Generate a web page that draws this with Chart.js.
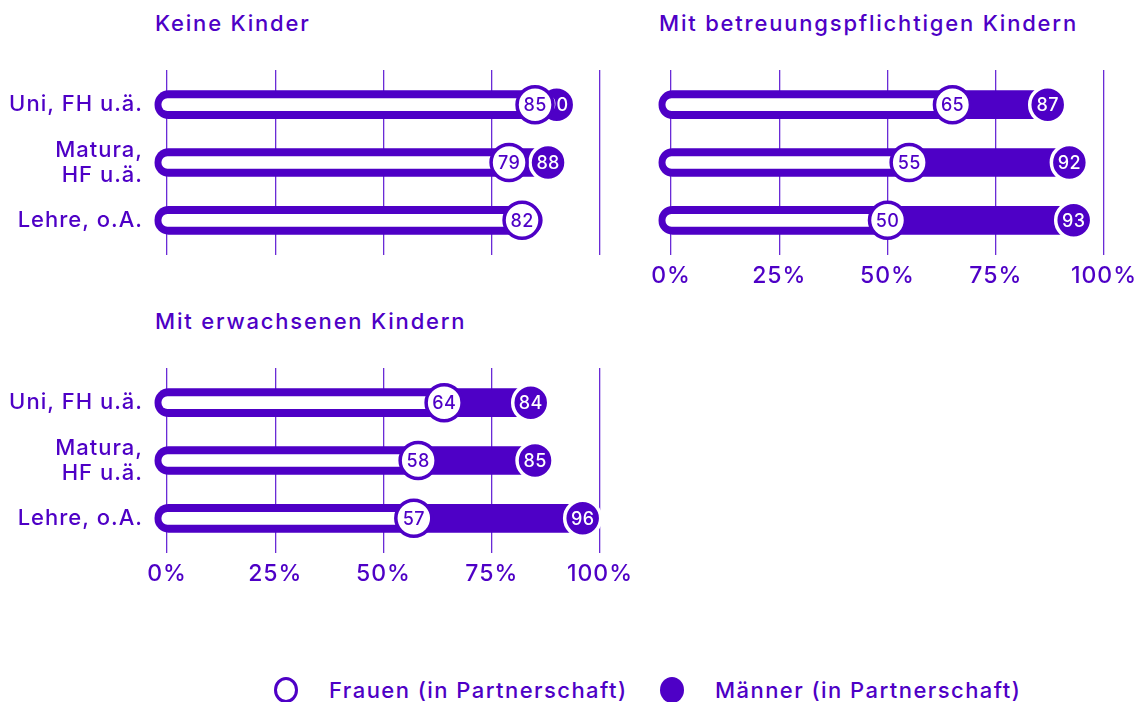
<!DOCTYPE html>
<html>
<head>
<meta charset="utf-8">
<script src="https://cdn.jsdelivr.net/npm/chart.js@4.4.1/dist/chart.umd.min.js"></script>
<style>
  html, body { margin: 0; padding: 0; background: #ffffff; }
  body { width: 1141px; height: 702px; position: relative; overflow: hidden; font-family: Inter, "Noto Sans", sans-serif; color: #4E00C6; }
  .box { position: absolute; }
  .title { position: absolute; font-size: 22px; font-weight: 500; line-height: 26px; letter-spacing: 1.8px; white-space: nowrap; }
  .legend { position: absolute; top: 676px; font-size: 22px; font-weight: 500; line-height: 28px; letter-spacing: 1.45px; white-space: nowrap; }
  .dot { position: absolute; width: 24px; height: 26px; border-radius: 50%; box-sizing: border-box; }
</style>
</head>
<body>
<div class="title" style="left:155px; top:10px;">Keine Kinder</div>
<div class="title" style="left:659px; top:10px;">Mit betreuungspflichtigen Kindern</div>
<div class="title" style="left:155px; top:308px;">Mit erwachsenen Kindern</div>

<div class="box" style="left:0; top:0; width:640px; height:300px;"><canvas id="c1"></canvas></div>
<div class="box" style="left:640px; top:0; width:501px; height:300px;"><canvas id="c2"></canvas></div>
<div class="box" style="left:0; top:298px; width:640px; height:300px;"><canvas id="c3"></canvas></div>

<div class="dot" style="left:274px; top:677px; border:3px solid #4E00C6; background:#fff;"></div>
<div class="legend" style="left:329px;">Frauen (in Partnerschaft)</div>
<div class="dot" style="left:660px; top:677px; background:#4E00C6;"></div>
<div class="legend" style="left:715px;">Männer (in Partnerschaft)</div>

<script>
// ---- data ----
const categories = [["Uni, FH u.ä."], ["Matura,", "HF u.ä."], ["Lehre, o.A."]];
const xTicks = [0, 25, 50, 75, 100];

const womenKeine = [85, 79, 82];
const menKeine = [90, 88, 83];

const womenBetreuung = [65, 55, 50];
const menBetreuung = [87, 92, 93];

const womenErwachsen = [64, 58, 57];
const menErwachsen = [84, 85, 96];

// ---- style ----
const PURPLE = '#4E00C6';
const GRID = '#6A2BD6';
const FONT = 'Inter, "Noto Sans", sans-serif';
const PILL_START = -2.8;
const INNER_START = -1.2;

const spacing = {
  id: 'spacing',
  beforeUpdate(chart) { chart.ctx.letterSpacing = '1px'; },
  beforeDraw(chart) { chart.ctx.letterSpacing = '1px'; }
};

const circleLabels = {
  id: 'circleLabels',
  afterDatasetDraw(chart, args) {
    const ds = chart.data.datasets[args.index];
    if (!ds.circleLabel) return;
    const ctx = chart.ctx;
    ctx.save();
    ctx.letterSpacing = '0.3px';
    ctx.font = '500 18px ' + FONT;
    ctx.fillStyle = ds.labelColor;
    ctx.textAlign = 'center';
    ctx.textBaseline = 'middle';
    args.meta.data.forEach((el, i) => {
      ctx.fillText(String(ds.data[i].x), el.x, el.y + 1);
    });
    ctx.restore();
  }
};

function makeChart(id, women, men, opts) {
  const pts = arr => arr.map((v, i) => ({ x: v, y: i }));
  const pill = men.map((v, i) => ({ x: [PILL_START, v], y: i }));
  const inner = women.map((v, i) => ({ x: [INNER_START, v], y: i }));
  return new Chart(document.getElementById(id), {
    type: 'bar',
    data: {
      datasets: [
        { type: 'line', data: pts(women), showLine: false, order: 0, clip: false,
          pointRadius: 18, pointHoverRadius: 18, pointBackgroundColor: '#ffffff',
          pointBorderColor: PURPLE, pointBorderWidth: 3.5, pointHoverBorderWidth: 3.5,
          circleLabel: true, labelColor: PURPLE },
        { type: 'line', data: pts(men), showLine: false, order: 1, clip: false,
          pointRadius: 18, pointHoverRadius: 18, pointBackgroundColor: PURPLE,
          pointBorderColor: '#ffffff', pointBorderWidth: 3.5, pointHoverBorderWidth: 3.5,
          circleLabel: true, labelColor: '#ffffff' },
        { type: 'bar', data: inner, order: 2, clip: false, stack: 's',
          backgroundColor: '#ffffff', barThickness: 12, borderRadius: 6, borderSkipped: false },
        { type: 'bar', data: pill, order: 3, clip: false, stack: 's',
          backgroundColor: PURPLE, barThickness: 28, borderRadius: 14, borderSkipped: false }
      ]
    },
    options: {
      indexAxis: 'y',
      responsive: true,
      maintainAspectRatio: false,
      animation: false,
      events: [],
      layout: { padding: { top: 70, right: opts.padRight, left: 0, bottom: 0 } },
      plugins: { legend: { display: false }, tooltip: { enabled: false } },
      scales: {
        x: {
          type: 'linear', min: 0, max: 100, stacked: false, offset: false,
          afterBuildTicks: s => { s.ticks = xTicks.map(v => ({ value: v })); },
          afterFit: s => { s.height = 45; s.paddingLeft = 0; s.paddingRight = 0; },
          grid: { display: true, drawTicks: false, offset: false, color: GRID, lineWidth: 1.3 },
          border: { display: false },
          ticks: { display: opts.showX, padding: 7, color: PURPLE,
                   font: { family: FONT, size: 23, weight: '500' },
                   callback: v => v + '%' }
        },
        y: {
          type: 'linear', min: -0.6, max: 2.6, reverse: true, stacked: true, offset: false,
          afterBuildTicks: s => { s.ticks = categories.map((c, i) => ({ value: i })); },
          afterFit: s => { s.width = opts.yWidth; s.paddingTop = 0; s.paddingBottom = 0; },
          grid: { display: false, offset: false },
          border: { display: false },
          ticks: { display: opts.showY, padding: 16, color: PURPLE,
                   font: { family: FONT, size: 22, weight: '500', lineHeight: 1.14 },
                   callback: v => categories[v] }
        }
      }
    },
    plugins: [spacing, circleLabels]
  });
}

makeChart('c1', womenKeine, menKeine, { padRight: 40, yWidth: 167, showX: false, showY: true });
makeChart('c2', womenBetreuung, menBetreuung, { padRight: 37, yWidth: 31, showX: true, showY: false });
makeChart('c3', womenErwachsen, menErwachsen, { padRight: 40, yWidth: 167, showX: true, showY: true });
</script>
</body>
</html>
